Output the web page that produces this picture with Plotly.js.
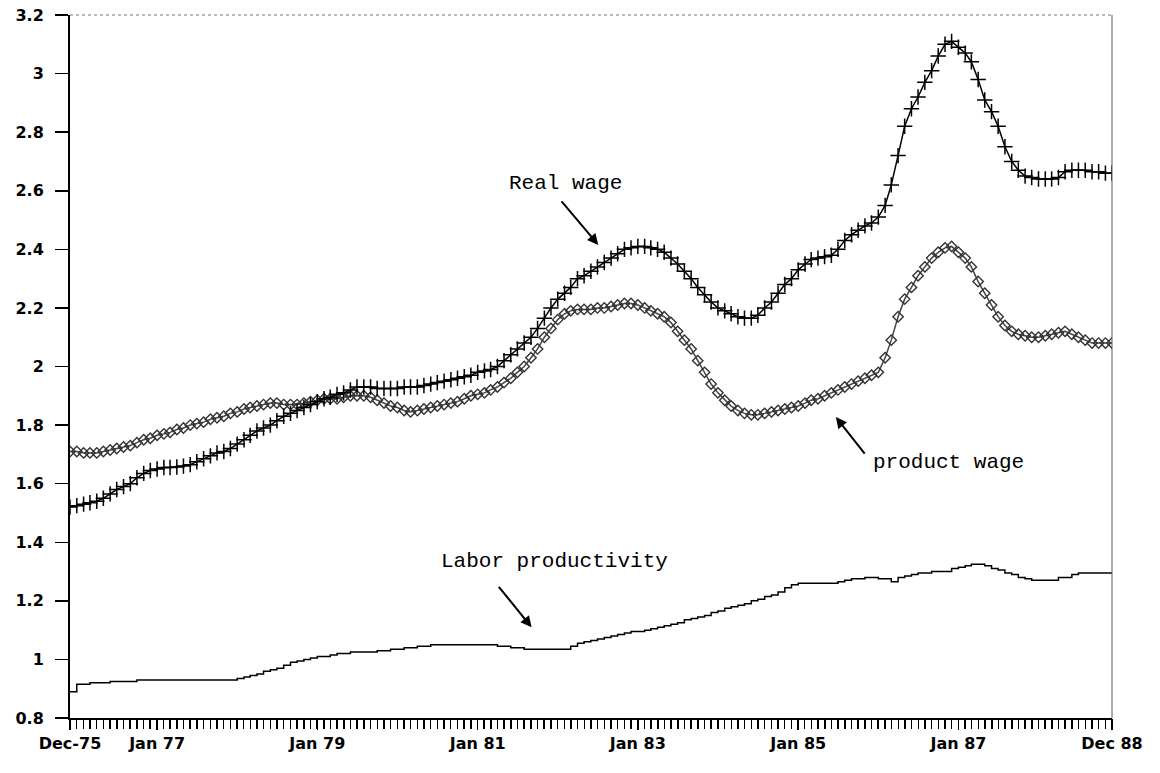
<!DOCTYPE html>
<html>
<head>
<meta charset="utf-8">
<script src="https://cdn.plot.ly/plotly-3.0.1.min.js"></script>
<style>html,body{margin:0;padding:0;background:#fff;}#chart{width:1160px;height:773px;}</style>
</head>
<body>
<div id="chart"></div>
<script>
// Monthly observations, Dec-75 through Dec-88 (157 months)
const startYear = 1975, startMonth = 12;

const realWage = [
1.52,1.525,1.53,1.535,1.54,1.55,1.565,1.58,1.59,1.60,
1.62,1.635,1.645,1.65,1.655,1.655,1.657,1.66,1.665,1.675,
1.685,1.695,1.705,1.71,1.72,1.735,1.75,1.765,1.78,1.79,
1.80,1.815,1.83,1.84,1.85,1.86,1.87,1.88,1.89,1.895,
1.905,1.91,1.92,1.93,1.93,1.93,1.925,1.925,1.925,1.925,
1.93,1.93,1.93,1.935,1.94,1.945,1.95,1.955,1.96,1.965,
1.97,1.98,1.985,1.99,2.00,2.02,2.04,2.06,2.08,2.10,
2.13,2.165,2.20,2.23,2.25,2.27,2.30,2.31,2.325,2.34,
2.355,2.37,2.385,2.40,2.405,2.41,2.41,2.405,2.40,2.39,
2.37,2.35,2.325,2.30,2.27,2.245,2.22,2.20,2.19,2.18,
2.17,2.165,2.165,2.175,2.20,2.22,2.25,2.28,2.30,2.33,
2.35,2.365,2.37,2.375,2.38,2.40,2.43,2.45,2.465,2.48,
2.49,2.51,2.55,2.62,2.72,2.82,2.88,2.92,2.97,3.01,
3.06,3.10,3.11,3.09,3.07,3.04,2.98,2.91,2.87,2.82,
2.75,2.70,2.67,2.65,2.645,2.64,2.64,2.64,2.645,2.665,
2.67,2.67,2.67,2.665,2.665,2.66,2.66
];

const productWage = [
1.71,1.71,1.705,1.705,1.705,1.71,1.715,1.72,1.725,1.73,
1.74,1.75,1.755,1.765,1.77,1.775,1.785,1.79,1.80,1.805,
1.81,1.82,1.825,1.83,1.84,1.845,1.855,1.86,1.865,1.87,
1.875,1.875,1.87,1.87,1.87,1.875,1.88,1.885,1.89,1.89,
1.89,1.895,1.90,1.90,1.90,1.895,1.885,1.875,1.865,1.86,
1.85,1.845,1.85,1.855,1.86,1.865,1.87,1.875,1.88,1.89,
1.90,1.905,1.91,1.92,1.93,1.945,1.96,1.98,2.00,2.03,
2.06,2.10,2.13,2.16,2.18,2.19,2.195,2.195,2.195,2.20,
2.20,2.205,2.21,2.215,2.215,2.21,2.20,2.19,2.18,2.17,
2.15,2.12,2.09,2.06,2.02,1.98,1.94,1.91,1.885,1.865,
1.85,1.84,1.835,1.835,1.84,1.845,1.85,1.855,1.86,1.865,
1.875,1.885,1.89,1.90,1.91,1.92,1.93,1.94,1.95,1.96,
1.97,1.98,2.03,2.09,2.17,2.23,2.27,2.31,2.34,2.37,
2.39,2.405,2.41,2.39,2.37,2.34,2.29,2.25,2.21,2.17,
2.14,2.12,2.11,2.105,2.10,2.10,2.105,2.11,2.115,2.12,
2.11,2.10,2.09,2.08,2.08,2.08,2.08
];

const laborProductivity = [
0.89,0.915,0.915,0.92,0.92,0.92,0.925,0.925,0.925,0.925,
0.93,0.93,0.93,0.93,0.93,0.93,0.93,0.93,0.93,0.93,
0.93,0.93,0.93,0.93,0.93,0.935,0.94,0.945,0.95,0.96,
0.965,0.97,0.98,0.99,0.995,1.00,1.005,1.01,1.01,1.015,
1.02,1.02,1.025,1.025,1.025,1.025,1.03,1.03,1.035,1.035,
1.04,1.04,1.045,1.045,1.05,1.05,1.05,1.05,1.05,1.05,
1.05,1.05,1.05,1.05,1.045,1.045,1.04,1.04,1.035,1.035,
1.035,1.035,1.035,1.035,1.035,1.045,1.055,1.06,1.065,1.07,
1.075,1.08,1.085,1.09,1.095,1.095,1.10,1.105,1.11,1.115,
1.12,1.125,1.135,1.14,1.145,1.15,1.16,1.165,1.175,1.18,
1.185,1.19,1.20,1.205,1.215,1.22,1.23,1.245,1.255,1.26,
1.26,1.26,1.26,1.26,1.26,1.265,1.27,1.275,1.275,1.28,
1.28,1.275,1.275,1.265,1.28,1.285,1.29,1.295,1.295,1.30,
1.30,1.30,1.31,1.315,1.32,1.325,1.325,1.32,1.31,1.305,
1.295,1.29,1.28,1.275,1.27,1.27,1.27,1.27,1.28,1.28,
1.29,1.295,1.295,1.295,1.295,1.295,1.295
];

const xTickVals = ['1975-12-01','1977-01-01','1979-01-01','1981-01-01','1983-01-01','1985-01-01','1987-01-01','1988-12-01'];
const xTickText = ['Dec-75','Jan 77','Jan 79','Jan 81','Jan 83','Jan 85','Jan 87','Dec 88'];
const yTickVals = [0.8,1,1.2,1.4,1.6,1.8,2,2.2,2.4,2.6,2.8,3,3.2];
const yTickText = ['0.8','1','1.2','1.4','1.6','1.8','2','2.2','2.4','2.6','2.8','3','3.2'];

function monthDates(n){
  const out=[];
  for(let i=0;i<n;i++){
    const t=(startMonth-1)+i;
    const y=startYear+Math.floor(t/12), m=(t%12)+1;
    out.push(y+'-'+(m<10?'0':'')+m+'-01');
  }
  return out;
}
const months = monthDates(realWage.length);
const monthIndex = months.map((d, i) => i);

const traces = [
  {x:months, y:productWage, type:'scatter', mode:'lines+markers', name:'product wage',
   line:{color:'#444', width:1.5},
   marker:{symbol:'diamond-open', size:8, color:'#333', line:{width:1.4, color:'#333'}}},
  {x:months, y:realWage, type:'scatter', mode:'lines+markers', name:'Real wage',
   line:{color:'#000', width:1.5},
   marker:{symbol:'cross-thin', size:11, color:'#000', line:{width:1.5, color:'#000'}}},
  {x:months, y:laborProductivity, type:'scatter', mode:'lines', name:'Labor productivity',
   line:{color:'#000', width:1.5, shape:'hv'}},
  // invisible carrier for the monthly tick axis
  {x:monthIndex, y:laborProductivity, xaxis:'x2', type:'scatter', mode:'lines',
   line:{width:0, color:'rgba(0,0,0,0)'}, hoverinfo:'skip', showlegend:false}
];

const mono = {family:'"Liberation Mono", "DejaVu Sans Mono", monospace', size:21, color:'#000'};

const layout = {
  width:1160, height:773,
  margin:{l:70, r:48, t:15, b:55},
  paper_bgcolor:'#fff', plot_bgcolor:'#fff',
  showlegend:false,
  xaxis:{
    type:'date', range:['1975-12-01','1988-12-01'],
    tickmode:'array', tickvals:xTickVals, ticktext:xTickText,
    ticks:'outside', ticklen:10, tickwidth:1.5, tickcolor:'#000',
    showline:true, linecolor:'#000', linewidth:2, showgrid:false, zeroline:false,
    tickangle:0,
    tickfont:{family:'"DejaVu Sans", sans-serif', size:16, weight:'bold', color:'#000'}
  },
  xaxis2:{
    overlaying:'x', side:'bottom', type:'linear', range:[0, months.length-1],
    tickmode:'linear', tick0:0, dtick:1,
    ticks:'outside', ticklen:10, tickwidth:1.5, tickcolor:'#000',
    showticklabels:false, showline:false, showgrid:false, zeroline:false
  },
  yaxis:{
    range:[0.8,3.2], tickvals:yTickVals, ticktext:yTickText,
    ticks:'outside', ticklen:13, tickwidth:1.5, tickcolor:'#000',
    ticklabelstandoff:8,
    showline:true, linecolor:'#000', linewidth:2, showgrid:false, zeroline:false,
    tickfont:{family:'"DejaVu Sans", sans-serif', size:16, weight:'bold', color:'#000'}
  },
  shapes:[
    {type:'line', xref:'paper', yref:'paper', x0:0, x1:1, y0:1, y1:1, line:{color:'#777', width:1, dash:'dot'}},
    {type:'line', xref:'paper', yref:'paper', x0:1, x1:1, y0:0, y1:1, line:{color:'#555', width:1}}
  ],
  annotations:[
    {xref:'paper', yref:'paper', x:0.476, y:0.761, text:'Real wage', showarrow:false, font:mono, xanchor:'center', yanchor:'middle'},
    {xref:'paper', yref:'paper', x:0.507, y:0.673, text:'', showarrow:true, arrowhead:2, arrowsize:1.1, arrowwidth:2, arrowcolor:'#000', ax:-38, ay:-45},
    {xref:'paper', yref:'paper', x:0.843, y:0.364, text:'product wage', showarrow:false, font:mono, xanchor:'center', yanchor:'middle'},
    {xref:'paper', yref:'paper', x:0.735, y:0.428, text:'', showarrow:true, arrowhead:2, arrowsize:1.1, arrowwidth:2, arrowcolor:'#000', ax:30, ay:38},
    {xref:'paper', yref:'paper', x:0.465, y:0.222, text:'Labor productivity', showarrow:false, font:mono, xanchor:'center', yanchor:'middle'},
    {xref:'paper', yref:'paper', x:0.443, y:0.129, text:'', showarrow:true, arrowhead:2, arrowsize:1.1, arrowwidth:2, arrowcolor:'#000', ax:-34, ay:-42}
  ]
};

Plotly.newPlot('chart', traces, layout, {staticPlot:true, displayModeBar:false});
</script>
</body>
</html>
